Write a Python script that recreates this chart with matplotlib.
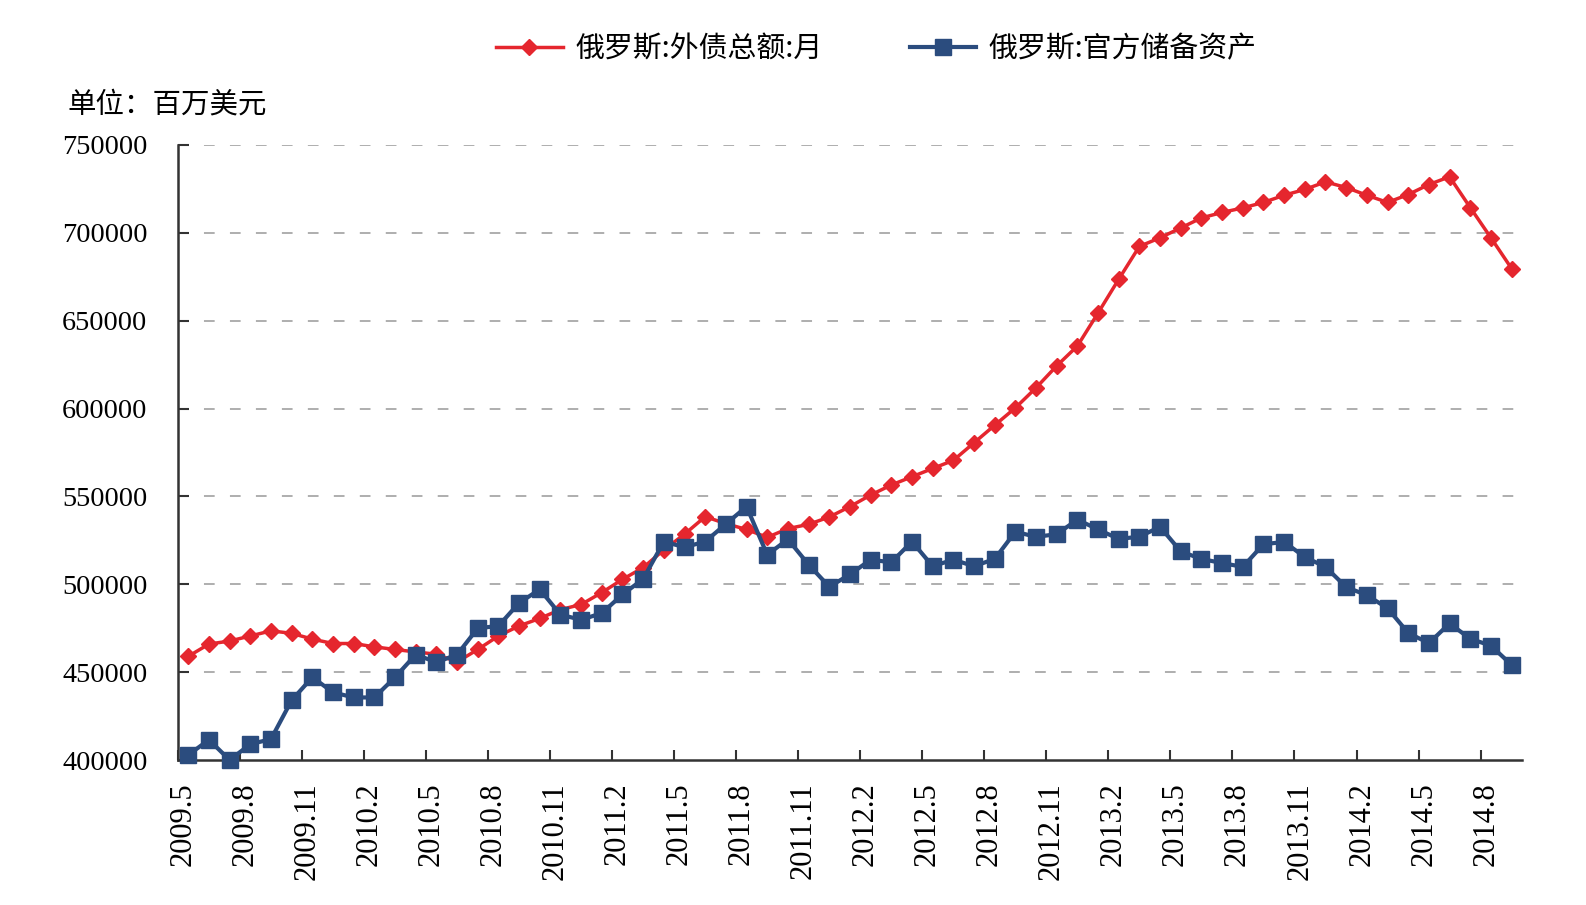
import matplotlib.pyplot as plt
import numpy as np

# 俄罗斯外债与官方储备 (百万美元), 月度 2009.5 - 2014.9
months = ['2009.5', '2009.6', '2009.7', '2009.8', '2009.9', '2009.10', '2009.11', '2009.12',
          '2010.1', '2010.2', '2010.3', '2010.4', '2010.5', '2010.6', '2010.7', '2010.8',
          '2010.9', '2010.10', '2010.11', '2010.12', '2011.1', '2011.2', '2011.3', '2011.4',
          '2011.5', '2011.6', '2011.7', '2011.8', '2011.9', '2011.10', '2011.11', '2011.12',
          '2012.1', '2012.2', '2012.3', '2012.4', '2012.5', '2012.6', '2012.7', '2012.8',
          '2012.9', '2012.10', '2012.11', '2012.12', '2013.1', '2013.2', '2013.3', '2013.4',
          '2013.5', '2013.6', '2013.7', '2013.8', '2013.9', '2013.10', '2013.11', '2013.12',
          '2014.1', '2014.2', '2014.3', '2014.4', '2014.5', '2014.6', '2014.7', '2014.8',
          '2014.9']

external_debt = [459000, 466000, 467700, 470600, 473500, 472100, 468800, 466300,
                 466300, 464400, 462900, 461500, 460200, 455800, 462900, 470600,
                 476300, 480600, 485600, 488500, 495300, 502800, 509500, 519600,
                 528500, 538500, 534500, 531200, 526700, 531700, 534100, 538300,
                 544200, 550800, 556500, 561200, 565900, 570500, 580500, 590500,
                 600400, 611800, 624300, 635600, 654400, 673600, 692300, 697200,
                 702800, 708500, 711600, 714200, 717300, 721400, 724700, 729000,
                 725800, 721400, 717300, 721800, 727500, 731900, 714400, 697200,
                 679700]

reserves = [402900, 411500, 400000, 409000, 411900, 434000, 447100, 438500,
            435600, 435600, 447100, 460000, 455600, 460000, 475000, 476300,
            489400, 497100, 482700, 479800, 483600, 494200, 503000, 524300,
            521100, 524300, 534300, 544200, 516800, 525600, 511200, 498600,
            505600, 514000, 512500, 524300, 510300, 514000, 510300, 514400,
            529900, 527000, 528500, 536800, 531200, 525800, 527100, 532700,
            518700, 514400, 512100, 509900, 522800, 524100, 515500, 509900,
            498400, 493800, 486400, 472300, 466500, 477700, 469000, 465100,
            454100]

tick_labels = ['2009.5', '2009.8', '2009.11', '2010.2', '2010.5', '2010.8', '2010.11',
               '2011.2', '2011.5', '2011.8', '2011.11', '2012.2', '2012.5', '2012.8',
               '2012.11', '2013.2', '2013.5', '2013.8', '2013.11', '2014.2', '2014.5',
               '2014.8']

series_names = ['俄罗斯:外债总额:月', '俄罗斯:官方储备资产']

serif = ['Liberation Serif', 'DejaVu Serif']
cjk = ['Noto Sans CJK SC', 'DejaVu Sans']

fig = plt.figure(figsize=(15.86, 9.05), dpi=100)
ax = fig.add_axes([0.1122, 0.1602, 0.8474, 0.6796])

x = np.arange(len(months))
ax.plot(x, external_debt, color='#E5262E', lw=2.5, marker='D', ms=8,
        label=series_names[0], clip_on=False, zorder=3)
ax.plot(x, reserves, color='#2B4C7E', lw=3, marker='s', ms=11,
        label=series_names[1], clip_on=False, zorder=4)

ax.set_xlim(-0.5, len(months) - 0.5)
ax.set_ylim(400000, 750000)
yt = np.arange(400000, 750001, 50000)
ax.set_yticks(yt)
ax.set_yticklabels([str(v) for v in yt], fontfamily=serif, fontsize=20.3)
for v in yt[1:]:
    ax.axhline(v, color='#999999', lw=1.1, dashes=(7, 10), zorder=1)

idx = [months.index(t) for t in tick_labels]
ax.set_xticks([i - 0.25 for i in idx])
ax.set_xticklabels(tick_labels, rotation=90, fontfamily=serif, fontsize=22)
ax.set_xticks([i - 0.5 for i in idx], minor=True)
ax.tick_params(axis='x', which='major', length=0, pad=16)
ax.tick_params(axis='x', which='minor', direction='in', length=7, width=1.5, color='#333333')
ax.tick_params(axis='y', direction='in', length=8, width=1.5, color='#333333', pad=22)

for s in ['top', 'right']:
    ax.spines[s].set_visible(False)
for s in ['left', 'bottom']:
    ax.spines[s].set_linewidth(1.8)
    ax.spines[s].set_color('#333333')

fig.text(0.0427, 0.885, '单位：百万美元', fontfamily=cjk, fontsize=20.5, va='center', ha='left')

fig.legend(loc='center', bbox_to_anchor=(0.5527, 0.946), ncol=2, frameon=False,
           prop={'family': cjk, 'size': 20.8}, handlelength=2.3,
           handletextpad=0.45, columnspacing=3.0)

fig.savefig('out.png', dpi=100)
